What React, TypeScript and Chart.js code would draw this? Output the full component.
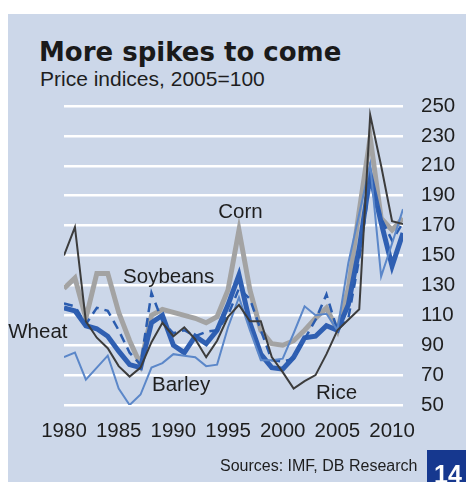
import React, { useEffect, useRef } from "react";
import { Chart, registerables } from "chart.js";

Chart.register(...registerables);

const years = [1980, 1981, 1982, 1983, 1984, 1985, 1986, 1987, 1988, 1989, 1990, 1991, 1992, 1993, 1994, 1995, 1996, 1997, 1998, 1999, 2000, 2001, 2002, 2003, 2004, 2005, 2006, 2007, 2008, 2009, 2010, 2011];

const rice = [150, 169, 106, 95, 88, 76, 69, 75, 92, 105, 96, 102, 94, 82, 93, 109, 117, 106, 106, 82, 72, 61, 66, 70, 84, 100, 107, 114, 244, 210, 173, 171];
const barley = [82, 85, 67, 75, 83, 61, 50, 57, 75, 78, 84, 83, 82, 76, 77, 102, 122, 100, 80, 80, 81, 98, 116, 110, 111, 100, 145, 178, 211, 136, 158, 181];
const soybeans = [118, 116, 104, 115, 113, 100, 85, 77, 125, 106, 98, 100, 96, 99, 100, 110, 128, 121, 100, 80, 79, 81, 94, 107, 124, 100, 108, 148, 200, 175, 160, 172];
const wheat = [115, 113, 103, 101, 96, 86, 77, 75, 105, 110, 90, 85, 96, 91, 100, 117, 137, 105, 84, 75, 74, 82, 95, 96, 103, 100, 117, 155, 204, 172, 143, 165];
const corn = [128, 135, 108, 138, 138, 112, 93, 77, 110, 114, 112, 110, 108, 105, 109, 127, 167, 127, 100, 91, 90, 93, 100, 108, 115, 100, 128, 180, 229, 175, 167, 175];

const xTicks = [1980, 1985, 1990, 1995, 2000, 2005, 2010];
const yTicks = [50, 70, 90, 110, 130, 150, 170, 190, 210, 230, 250];

const seriesLabels = [
  { text: "Corn", year: 1994.1, value: 175 },
  { text: "Soybeans", year: 1985.4, value: 131.5 },
  { text: "Wheat", year: 1974.9, value: 95 },
  { text: "Barley", year: 1988.05, value: 59.5 },
  { text: "Rice", year: 2003.05, value: 54 },
];

const FONT = "'Liberation Sans', Arial, sans-serif";

const toPts = (arr: number[]) => arr.map((v, i) => ({ x: years[i], y: v }));

const labelPlugin = {
  id: "seriesLabels",
  afterDatasetsDraw(chart: any) {
    const { ctx, scales } = chart;
    ctx.save();
    ctx.font = `20.5px ${FONT}`;
    ctx.fillStyle = "#1e1e1e";
    ctx.textAlign = "left";
    ctx.textBaseline = "alphabetic";
    for (const l of seriesLabels) {
      ctx.fillText(l.text, scales.x.getPixelForValue(l.year), scales.y.getPixelForValue(l.value));
    }
    ctx.restore();
  },
};

export default function App() {
  const ref = useRef<HTMLCanvasElement>(null);
  useEffect(() => {
    if (!ref.current) return;
    const chart = new Chart(ref.current, {
      type: "line",
      data: {
        datasets: [
          { label: "Rice", data: toPts(rice), borderColor: "#3c3c3c", borderWidth: 2, order: 1 },
          { label: "Barley", data: toPts(barley), borderColor: "#5b87c9", borderWidth: 2, order: 2 },
          { label: "Soybeans", data: toPts(soybeans), borderColor: "#2a5caf", borderWidth: 2.5, borderDash: [9, 6], order: 3 },
          { label: "Wheat", data: toPts(wheat), borderColor: "#2f5fb2", borderWidth: 5, order: 4 },
          { label: "Corn", data: toPts(corn), borderColor: "#a3a3a3", borderWidth: 5, order: 5 },
        ],
      },
      options: {
        responsive: false,
        animation: false,
        devicePixelRatio: 1,
        layout: { padding: { left: 64, top: 106, right: 0, bottom: 0 } },
        elements: { point: { radius: 0 }, line: { tension: 0, borderJoinStyle: "miter" as any, borderCapStyle: "butt" } },
        plugins: { legend: { display: false }, tooltip: { enabled: false } },
        scales: {
          x: {
            type: "linear",
            min: 1980,
            max: 2011,
            grid: { display: false, drawTicks: false },
            border: { display: false },
            afterBuildTicks: (s: any) => { s.ticks = xTicks.map((v) => ({ value: v })); },
            afterFit: (s: any) => { s.height = 77; },
            ticks: {
              padding: 14,
              maxRotation: 0,
              autoSkip: false,
              color: "#1e1e1e",
              font: { family: FONT, size: 20.5 },
              callback: (v: any) => String(v),
            },
          },
          y: {
            position: "right",
            min: 50,
            max: 250,
            grid: { color: "#ffffff", lineWidth: 2.5, drawTicks: false },
            border: { display: false },
            afterBuildTicks: (s: any) => { s.ticks = yTicks.map((v) => ({ value: v })); },
            afterFit: (s: any) => { s.width = 63; },
            ticks: {
              padding: 18,
              color: "#1e1e1e",
              font: { family: FONT, size: 20.5 },
              callback: (v: any) => String(v),
            },
          },
        },
      },
      plugins: [labelPlugin],
    });
    return () => chart.destroy();
  }, []);

  return (
    <div style={{ position: "absolute", left: 0, top: 0, width: 466, height: 482, overflow: "hidden" }}>
      <div style={{ position: "absolute", left: 8, top: 14, width: 458, height: 468, background: "#ccd7e9" }} />
      <div style={{ position: "absolute", left: 39, top: 37, font: `bold 26px 'DejaVu Sans', sans-serif`, color: "#1a1a1a", whiteSpace: "nowrap", lineHeight: "30px" }}>
        More spikes to come
      </div>
      <div style={{ position: "absolute", left: 40, top: 67, font: `21px ${FONT}`, color: "#1e1e1e", whiteSpace: "nowrap", lineHeight: "23px" }}>
        Price indices, 2005=100
      </div>
      <canvas ref={ref} width={466} height={482} style={{ position: "absolute", left: 0, top: 0, width: 466, height: 482 }} />
      <div style={{ position: "absolute", left: 220, top: 457, font: `16px ${FONT}`, color: "#1e1e1e", whiteSpace: "nowrap", lineHeight: "18px" }}>
        Sources: IMF, DB Research
      </div>
      <div style={{ position: "absolute", left: 427, top: 450, width: 39, height: 32, background: "#16388f", overflow: "hidden" }}>
        <div style={{ position: "absolute", left: 7, top: 10, font: `bold 25px ${FONT}`, color: "#ffffff", lineHeight: "28px" }}>14</div>
      </div>
    </div>
  );
}
